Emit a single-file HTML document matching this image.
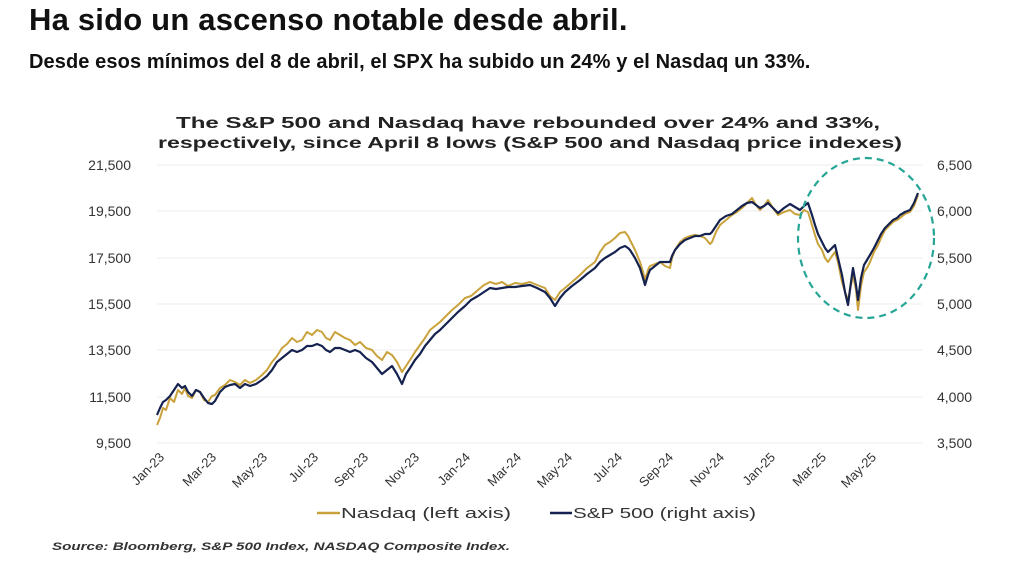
<!DOCTYPE html>
<html><head><meta charset="utf-8"><style>
body{margin:0;width:1024px;height:573px;background:#fff;overflow:hidden;font-family:"Liberation Sans",sans-serif;}
.h1{position:absolute;left:29px;top:2px;font-size:31px;font-weight:bold;color:#111;letter-spacing:0.2px;}
.h2{position:absolute;left:29px;top:51px;font-size:20px;font-weight:bold;color:#111;letter-spacing:0.1px;}
</style></head><body>
<div class="h1">Ha sido un ascenso notable desde abril.</div>
<div class="h2">Desde esos mínimos del 8 de abril, el SPX ha subido un 24% y el Nasdaq un 33%.</div>
<svg width="1024" height="573" style="position:absolute;left:0;top:0" font-family="Liberation Sans, sans-serif">
<text x="176" y="128" textLength="704" lengthAdjust="spacingAndGlyphs" font-size="16" font-weight="bold" fill="#222">The S&amp;P 500 and Nasdaq have rebounded over 24% and 33%,</text>
<text x="158" y="148" textLength="744" lengthAdjust="spacingAndGlyphs" font-size="16" font-weight="bold" fill="#222">respectively, since April 8 lows (S&amp;P 500 and Nasdaq price indexes)</text>
<g stroke="#ececec" stroke-width="1">
<line x1="157" x2="922" y1="165" y2="165"/><line x1="157" x2="922" y1="211" y2="211"/><line x1="157" x2="922" y1="258" y2="258"/><line x1="157" x2="922" y1="304" y2="304"/><line x1="157" x2="922" y1="350" y2="350"/><line x1="157" x2="922" y1="397" y2="397"/><line x1="157" x2="922" y1="443" y2="443"/>
</g>
<g font-size="14" fill="#333" text-anchor="end">
<text x="131" y="170">21,500</text><text x="131" y="216">19,500</text><text x="131" y="263">17,500</text><text x="131" y="309">15,500</text><text x="131" y="355">13,500</text><text x="131" y="402">11,500</text><text x="131" y="448">9,500</text>
</g>
<g font-size="14" fill="#333">
<text x="937" y="170">6,500</text><text x="937" y="216">6,000</text><text x="937" y="263">5,500</text><text x="937" y="309">5,000</text><text x="937" y="355">4,500</text><text x="937" y="402">4,000</text><text x="937" y="448">3,500</text>
</g>
<g font-size="13" fill="#333" text-anchor="end">
<text transform="translate(165,458) rotate(-45)">Jan-23</text>
<text transform="translate(217,458) rotate(-45)">Mar-23</text>
<text transform="translate(268,458) rotate(-45)">May-23</text>
<text transform="translate(319,458) rotate(-45)">Jul-23</text>
<text transform="translate(369,458) rotate(-45)">Sep-23</text>
<text transform="translate(420,458) rotate(-45)">Nov-23</text>
<text transform="translate(471,458) rotate(-45)">Jan-24</text>
<text transform="translate(522,458) rotate(-45)">Mar-24</text>
<text transform="translate(573,458) rotate(-45)">May-24</text>
<text transform="translate(623,458) rotate(-45)">Jul-24</text>
<text transform="translate(674,458) rotate(-45)">Sep-24</text>
<text transform="translate(725,458) rotate(-45)">Nov-24</text>
<text transform="translate(776,458) rotate(-45)">Jan-25</text>
<text transform="translate(827,458) rotate(-45)">Mar-25</text>
<text transform="translate(877,458) rotate(-45)">May-25</text>
</g>
<polyline fill="none" stroke="#c9a23c" stroke-width="2" stroke-linejoin="round" points="157,425 160,418 163,408 166,410 170,398 174,402 178,390 182,394 185,388 188,396 192,398 196,390 200,392 204,400 208,402 212,396 215,395 220,388 225,385 230,380 235,382 240,385 245,380 250,383 256,380 262,375 267,370 272,362 277,356 282,348 287,344 292,338 297,342 302,340 307,332 312,335 317,330 322,332 326,338 330,340 335,332 340,335 345,338 350,340 355,345 360,342 366,348 372,350 377,356 382,360 387,352 392,355 397,362 402,372 406,366 410,360 415,352 420,345 425,338 430,330 435,326 440,322 446,316 452,310 458,305 465,298 471,296 478,290 484,285 490,282 496,284 502,282 508,286 515,283 522,284 530,282 537,285 545,288 550,296 555,300 560,292 565,288 572,282 580,275 587,268 595,262 600,252 605,245 610,242 615,238 620,233 625,232 628,236 630,240 635,250 640,262 643,272 645,280 648,270 650,266 655,264 660,262 665,266 670,268 672,258 675,250 680,242 685,238 690,236 695,235 700,236 705,238 710,244 712,242 716,232 720,225 726,220 732,215 737,212 742,208 747,203 752,198 756,205 760,210 764,206 768,200 773,208 778,215 784,212 790,210 795,214 800,215 804,210 808,212 812,225 815,235 818,244 822,250 825,258 828,262 832,256 835,252 838,262 842,282 845,292 848,300 851,285 853,275 856,290 858,310 861,286 864,272 867,268 870,262 874,252 878,245 881,238 885,230 889,226 893,222 897,220 900,218 905,214 910,212 914,206 918,195"/>
<polyline fill="none" stroke="#15224f" stroke-width="2.2" stroke-linejoin="round" points="157,415 160,408 163,402 166,400 170,396 174,390 178,384 182,388 185,386 188,392 192,396 196,390 200,392 204,398 208,403 212,404 215,401 220,392 225,387 230,385 235,384 240,388 245,384 250,386 256,384 262,380 267,376 272,370 277,362 282,358 287,354 292,350 297,352 302,350 307,346 312,346 317,344 322,346 326,350 330,352 335,348 340,348 345,350 350,352 355,350 360,352 366,358 372,362 377,368 382,374 387,370 392,366 397,374 402,384 406,374 410,368 415,360 420,354 425,346 430,340 435,334 440,330 446,324 452,318 458,312 465,306 471,300 478,296 484,292 490,288 496,289 502,288 508,287 515,287 522,286 530,285 537,288 545,292 550,298 555,306 560,298 565,292 572,286 580,280 587,274 595,268 600,262 605,258 610,255 615,252 620,248 625,246 628,248 630,250 635,258 640,268 643,278 645,285 648,275 650,270 655,266 660,262 665,262 670,262 672,256 675,250 680,244 685,240 690,238 695,236 700,236 705,234 710,234 712,232 716,226 720,220 726,216 732,214 737,210 742,206 747,203 752,202 756,205 760,208 764,206 768,203 773,208 778,213 784,208 790,204 795,207 800,210 804,206 808,203 812,215 815,225 818,234 822,242 825,248 828,252 832,248 835,245 838,258 842,275 845,292 848,305 851,282 853,268 856,285 858,300 861,278 864,265 867,260 870,255 874,248 878,240 881,234 885,228 889,224 893,220 897,218 900,215 905,212 910,210 914,203 918,193"/>
<ellipse cx="866" cy="238" rx="68" ry="80" fill="none" stroke="#26a596" stroke-width="2.2" stroke-dasharray="7,5"/>
<line x1="317" y1="513" x2="340" y2="513" stroke="#c9a23c" stroke-width="2.5"/>
<text x="341" y="518" font-size="15" textLength="170" lengthAdjust="spacingAndGlyphs" fill="#333">Nasdaq (left axis)</text>
<line x1="550" y1="513" x2="572" y2="513" stroke="#15224f" stroke-width="2.5"/>
<text x="573" y="518" font-size="15" textLength="183" lengthAdjust="spacingAndGlyphs" fill="#333">S&amp;P 500 (right axis)</text>
<text x="52" y="550" font-size="11" textLength="458" lengthAdjust="spacingAndGlyphs" font-weight="bold" font-style="italic" fill="#333">Source: Bloomberg, S&amp;P 500 Index, NASDAQ Composite Index.</text>
</svg>
</body></html>
